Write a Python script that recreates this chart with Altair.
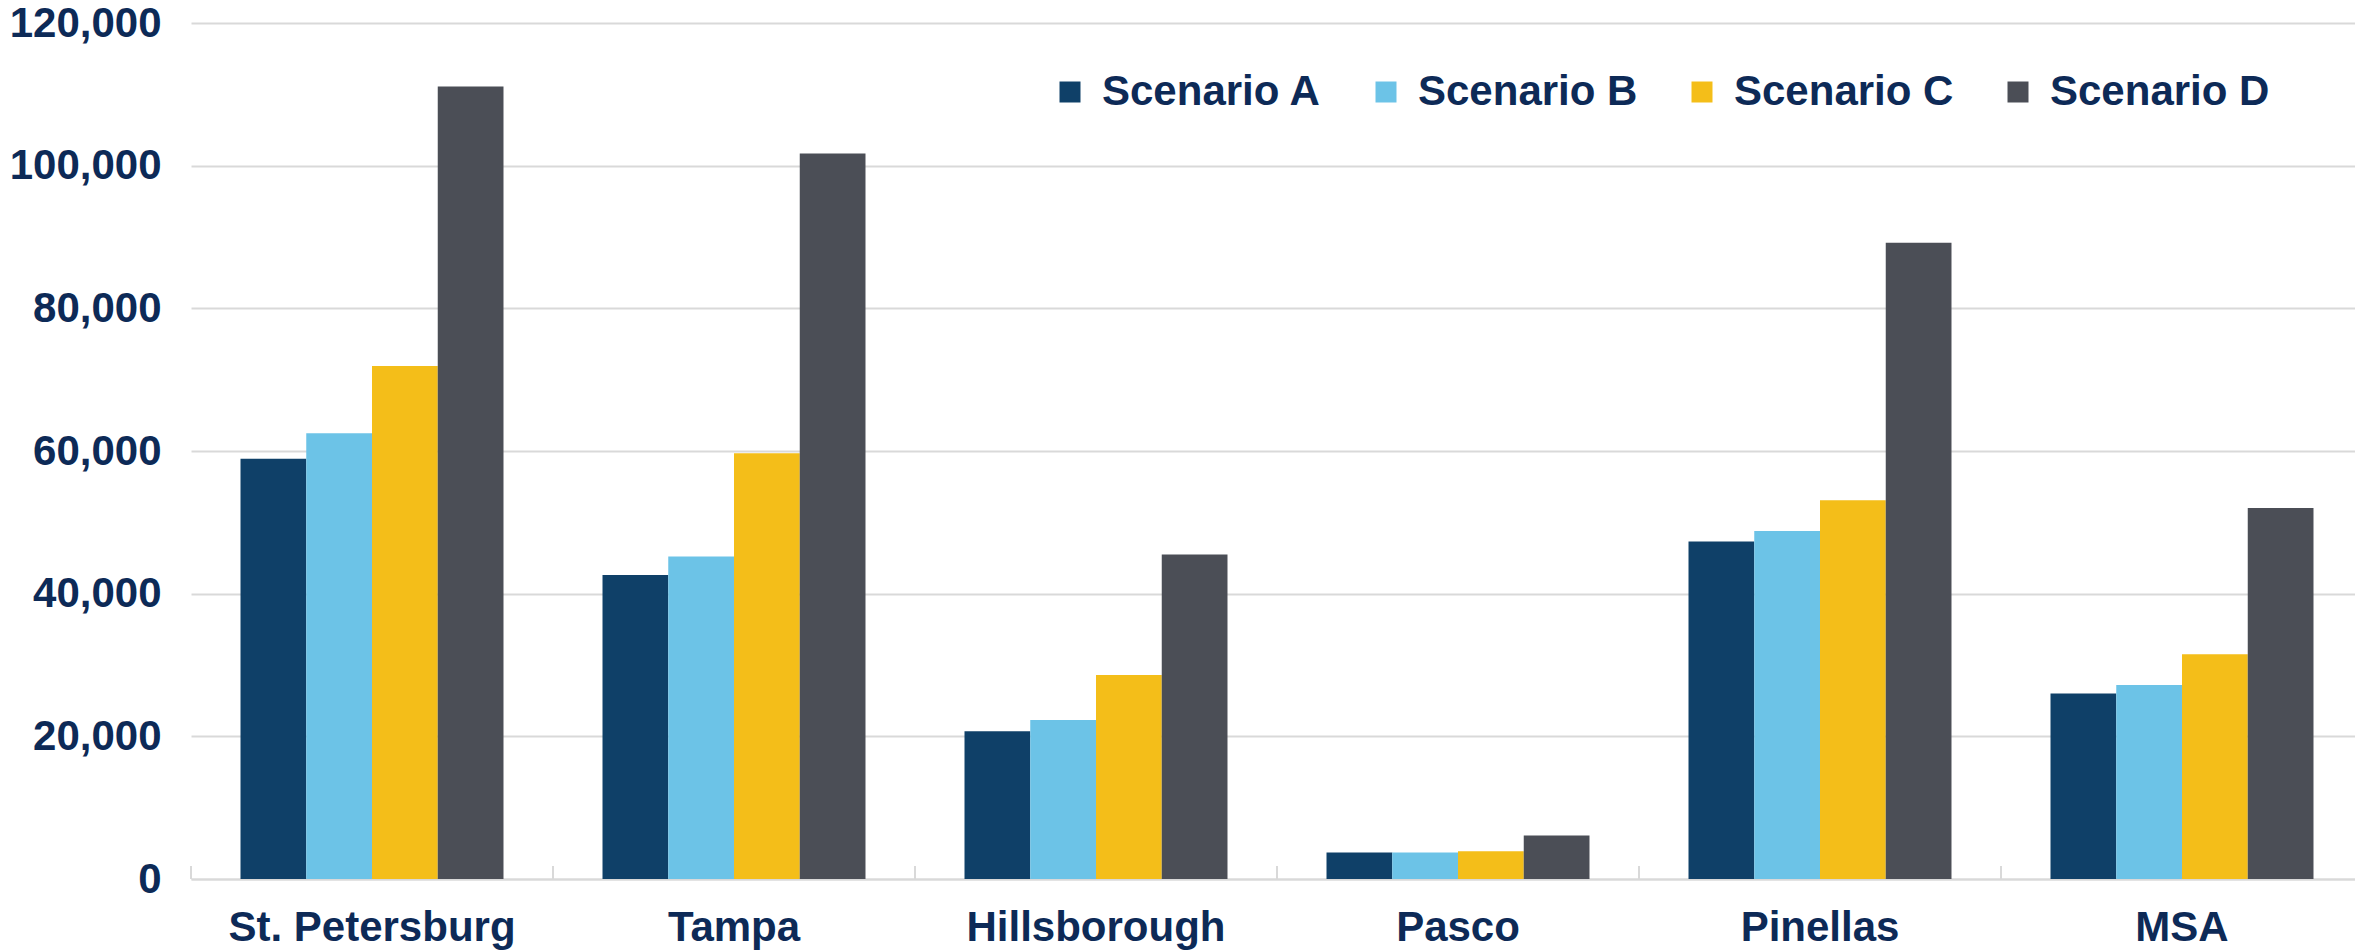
import altair as alt
import pandas as pd

regions = ["St. Petersburg", "Tampa", "Hillsborough", "Pasco", "Pinellas", "MSA"]
scenarios = ["Scenario A", "Scenario B", "Scenario C", "Scenario D"]
scenario_a = [58900, 42600, 20700, 3700, 47300, 26000]
scenario_b = [62500, 45200, 22300, 3700, 48800, 27200]
scenario_c = [71900, 59700, 28600, 3900, 53100, 31500]
scenario_d = [111100, 101700, 45500, 6100, 89200, 52000]
colors = ["#0f4068", "#6cc3e7", "#f4be19", "#4b4e56"]
y_ticks = [0, 20000, 40000, 60000, 80000, 100000, 120000]

rows = []
for s, vals in zip(scenarios, [scenario_a, scenario_b, scenario_c, scenario_d]):
    for r, v in zip(regions, vals):
        rows.append({"region": r, "scenario": s, "value": v})
df = pd.DataFrame(rows)
ticks_df = pd.DataFrame({"region": regions})

NAVY = "#0d2a57"
FONT = "Liberation Sans"
W, H = 2164, 856

xscale = alt.Scale(domain=regions, paddingInner=0, paddingOuter=0, range=[0, 2172])

bars = alt.Chart(df).mark_bar().encode(
    x=alt.X("region:N", scale=xscale, sort=regions,
            axis=alt.Axis(title=None, ticks=False, domain=True, domainColor="#d9d9d9",
                          domainWidth=2, labelAngle=0, labelFont=FONT, labelFontSize=42,
                          labelFontWeight="bold", labelColor=NAVY, labelPadding=28,
                          labelLimit=1000, grid=False)),
    xOffset=alt.XOffset("scenario:N", sort=scenarios,
                        scale=alt.Scale(paddingInner=0, paddingOuter=0.753)),
    y=alt.Y("value:Q", scale=alt.Scale(domain=[0, 120000], nice=False),
            axis=alt.Axis(title=None, values=y_ticks, format=",.0f", ticks=False, domain=False,
                          labelFont=FONT, labelFontSize=42, labelFontWeight="bold",
                          labelColor=NAVY, labelPadding=30, labelLimit=1000,
                          gridColor="#d9d9d9", gridWidth=2)),
    color=alt.Color("scenario:N", sort=scenarios,
                    scale=alt.Scale(domain=scenarios, range=colors),
                    legend=alt.Legend(title=None, orient="none", legendX=858, legendY=48,
                                      direction="horizontal", columns=4, columnPadding=43,
                                      symbolType="square", symbolSize=441, symbolStrokeWidth=0,
                                      labelOffset=11, labelFont=FONT, labelFontSize=42,
                                      labelFontWeight="bold", labelColor=NAVY, labelLimit=1000,
                                      padding=0)),
)

tick_marks = alt.Chart(ticks_df).mark_rule(color="#d9d9d9", strokeWidth=2).encode(
    x=alt.X("region:N", scale=xscale, sort=regions, bandPosition=0),
    y=alt.value(H - 13),
    y2=alt.value(H),
)

chart = alt.layer(bars, tick_marks).properties(
    width=W, height=H,
    autosize=alt.AutoSizeParams(type="none"),
    padding={"left": 183, "top": 15, "right": 0, "bottom": 74},
).configure_view(stroke=None)

chart.save("out.html", embed_options={"renderer": "svg", "actions": False})
